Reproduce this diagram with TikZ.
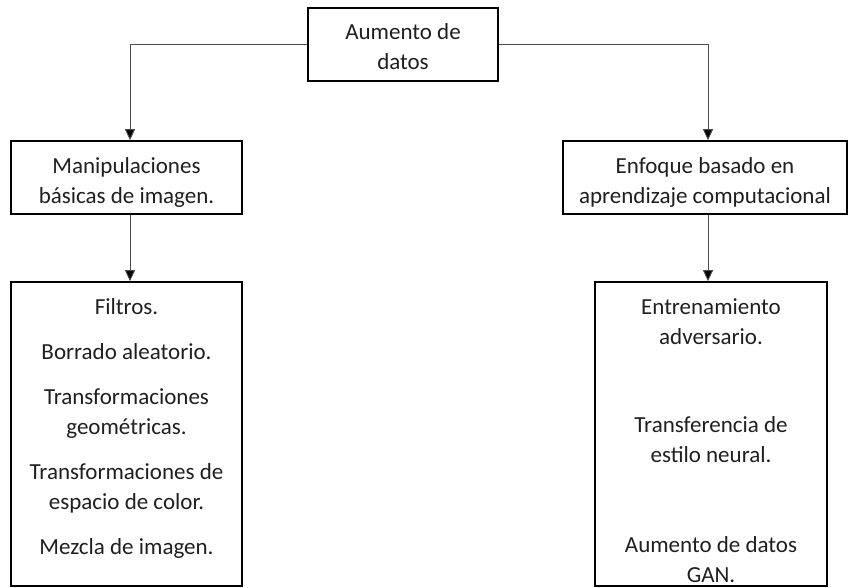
\documentclass[tikz,border=0pt]{standalone}
\usepackage{fontspec}
\setmainfont{Carlito}
\usetikzlibrary{arrows.meta}
\begin{document}
\begin{tikzpicture}[x=1pt,y=-1pt,
  box/.style={draw=black, line width=1.6pt, inner sep=0pt},
  txt/.style={inner sep=0pt, align=center,
    font=\fontsize{23}{30}\selectfont, text=black!88},
  conn/.style={draw=black!70, line width=0.9pt,
    -{Triangle[width=10pt,length=11pt,fill=black]}}]
\useasboundingbox (0,0) rectangle (848,588);
\node[box, minimum width=190, minimum height=73] (top) at (403,44.5) {};
\node[txt] (topt) at ([yshift=-2.5pt]top.center) {Aumento de\\datos};
\node[box, minimum width=231, minimum height=73] (L2) at (126.5,177.5) {};
\node[txt] (L2t) at ([yshift=-4.5pt]L2.center) {Manipulaciones\\básicas de imagen.};
\node[box, minimum width=284, minimum height=73] (R2) at (705,177.5) {};
\node[txt] (R2t) at ([yshift=-4.5pt]R2.center) {Enfoque basado en\\aprendizaje computacional};
\node[box, minimum width=231, minimum height=304] (L3) at (126.5,434) {};
\node[txt] (L3t) at ([yshift=6pt]L3.center)
  {Filtros.\\[15pt]Borrado aleatorio.\\[15pt]Transformaciones\\geométricas.\\[15pt]Transformaciones de\\espacio de color.\\[15pt]Mezcla de imagen.};
\node[box, minimum width=232, minimum height=304] (R3) at (711,434) {};
\node[txt] (R3t) at ([yshift=-6.5pt]R3.center)
  {Entrenamiento\\adversario.\\[58pt]Transferencia de\\estilo neural.\\[60pt]Aumento de datos\\GAN.};
\draw[conn] (top.west) -| ([xshift=3.5pt]L2.north);
\draw[conn] (top.east) -| ([xshift=3pt]R2.north);
\draw[conn] ([xshift=3.5pt]L2.south) -- ([xshift=3.5pt]L2.south |- L3.north);
\draw[conn] ([xshift=3pt]R2.south) -- ([xshift=3pt]R2.south |- R3.north);
\end{tikzpicture}
\end{document}
